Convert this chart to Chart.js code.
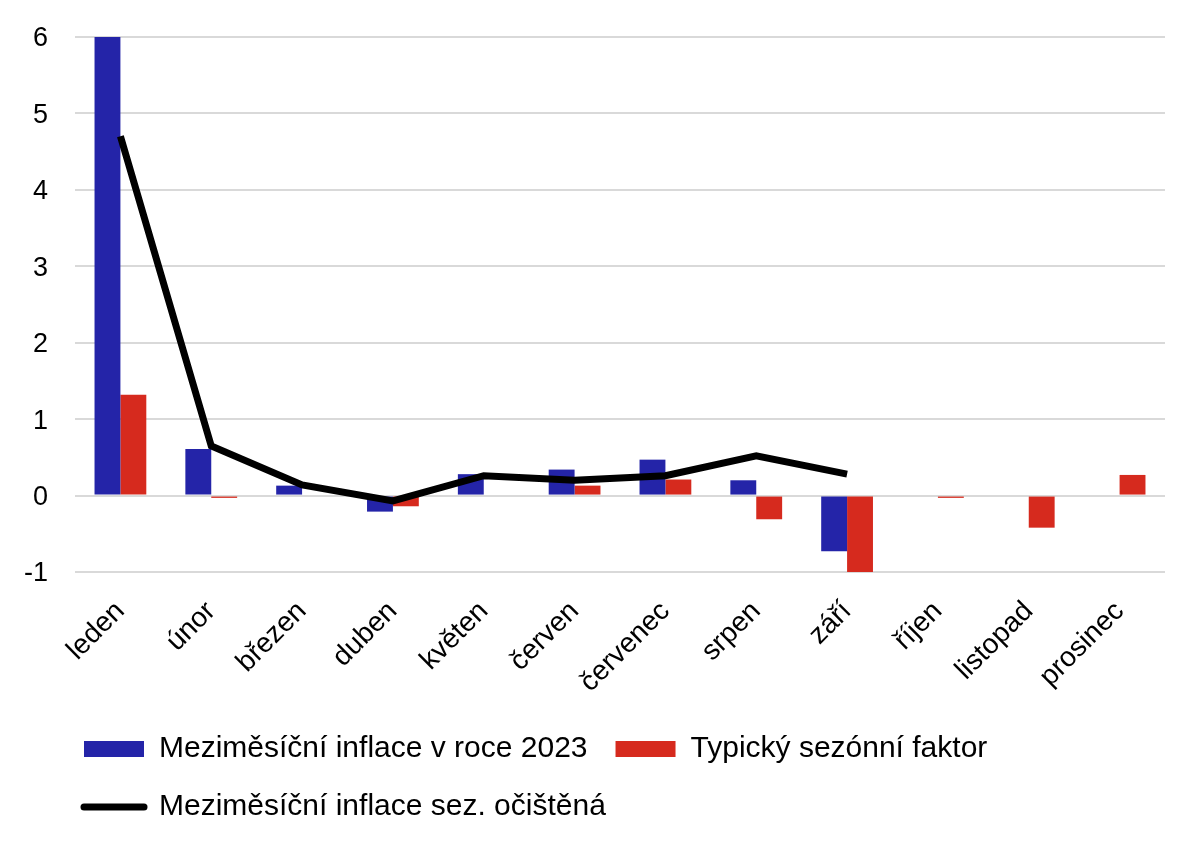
<!DOCTYPE html>
<html lang="cs">
<head>
<meta charset="utf-8">
<title>Meziměsíční inflace</title>
<script src="https://cdn.jsdelivr.net/npm/chart.js@4/dist/chart.umd.min.js"></script>
<style>
    html, body { margin: 0; padding: 0; background: #fff; }
    #wrap { width: 1200px; height: 842px; position: relative; }
</style>
</head>
<body>
<div id="wrap"><canvas id="chart"></canvas></div>
<script>
// Values (percent, month on month).
const months = ['leden', 'únor', 'březen', 'duben', 'květen', 'červen',
    'červenec', 'srpen', 'září', 'říjen', 'listopad', 'prosinec'];
const inflation2023 = [6.0, 0.61, 0.13, -0.21, 0.28, 0.34, 0.47, 0.20, -0.73, null, null, null];
const seasonalFactor = [1.32, -0.03, 0.0, -0.14, 0.0, 0.13, 0.21, -0.31, -1.02, -0.03, -0.42, 0.27];
const adjusted = [4.7, 0.65, 0.14, -0.07, 0.26, 0.20, 0.26, 0.52, 0.28, null, null, null];
const yTicks = [-1, 0, 1, 2, 3, 4, 5, 6];

const COLORS = {
    blue: '#2424a8',
    red: '#d62a1e',
    line: '#000000',
    grid: '#d9d9d9',
    text: '#000000',
};

const FONT = 'Liberation Sans, Arial, sans-serif';

new Chart(document.getElementById('chart'), {
    type: 'bar',
    data: {
        labels: months,
        datasets: [
            {
                label: 'Meziměsíční inflace v roce 2023',
                data: inflation2023,
                backgroundColor: COLORS.blue,
                categoryPercentage: 0.57,
                barPercentage: 1.0,
                order: 1,
            },
            {
                label: 'Typický sezónní faktor',
                data: seasonalFactor,
                backgroundColor: COLORS.red,
                categoryPercentage: 0.57,
                barPercentage: 1.0,
                order: 1,
            },
            {
                type: 'line',
                label: 'Meziměsíční inflace sez. očištěná',
                data: adjusted,
                borderColor: COLORS.line,
                backgroundColor: COLORS.line,
                borderWidth: 7,
                pointRadius: 0,
                tension: 0,
                spanGaps: false,
                order: 0,
            },
        ],
    },
    options: {
        responsive: true,
        maintainAspectRatio: false,
        animation: false,
        devicePixelRatio: 1,
        layout: { padding: { left: 56, right: 35, top: 37, bottom: 10 } },
        plugins: {
            tooltip: { enabled: false },
            legend: {
                position: 'bottom',
                align: 'start',
                labels: {
                    color: COLORS.text,
                    font: { family: FONT, size: 30 },
                    usePointStyle: true,
                    pointStyleWidth: 60,
                    boxHeight: 16,
                    padding: 28,
                    // keep legend order as in the data, line item drawn as a stroke
                    generateLabels: (chart) => chart.data.datasets.map((ds, i) => ({
                        text: ds.label,
                        datasetIndex: i,
                        fillStyle: ds.type === 'line' ? ds.borderColor : ds.backgroundColor,
                        strokeStyle: ds.type === 'line' ? ds.borderColor : ds.backgroundColor,
                        lineWidth: ds.type === 'line' ? 7 : 0,
                        lineCap: 'round',
                        pointStyle: ds.type === 'line' ? 'line' : 'rect',
                        fontColor: COLORS.text,
                        hidden: false,
                    })),
                },
            },
        },
        scales: {
            x: {
                grid: { display: false },
                border: { display: false },
                afterFit: (s) => { s.height = 134; },
                ticks: {
                    color: COLORS.text,
                    font: { family: FONT, size: 28 },
                    minRotation: 45,
                    maxRotation: 45,
                    autoSkip: false,
                    padding: 15,
                },
            },
            y: {
                min: -1,
                max: 6,
                afterFit: (s) => { s.width = 19; },
                afterBuildTicks: (s) => { s.ticks = yTicks.map(v => ({ value: v })); },
                grid: { color: COLORS.grid, lineWidth: 2, drawTicks: false },
                border: { display: false },
                // mirrored so the labels can sit left of the narrow axis box
                ticks: {
                    color: COLORS.text,
                    font: { family: FONT, size: 27 },
                    mirror: true,
                    crossAlign: 'far',
                    padding: -51,
                    labelOffset: 2,
                },
            },
        },
    },
});
</script>
</body>
</html>
